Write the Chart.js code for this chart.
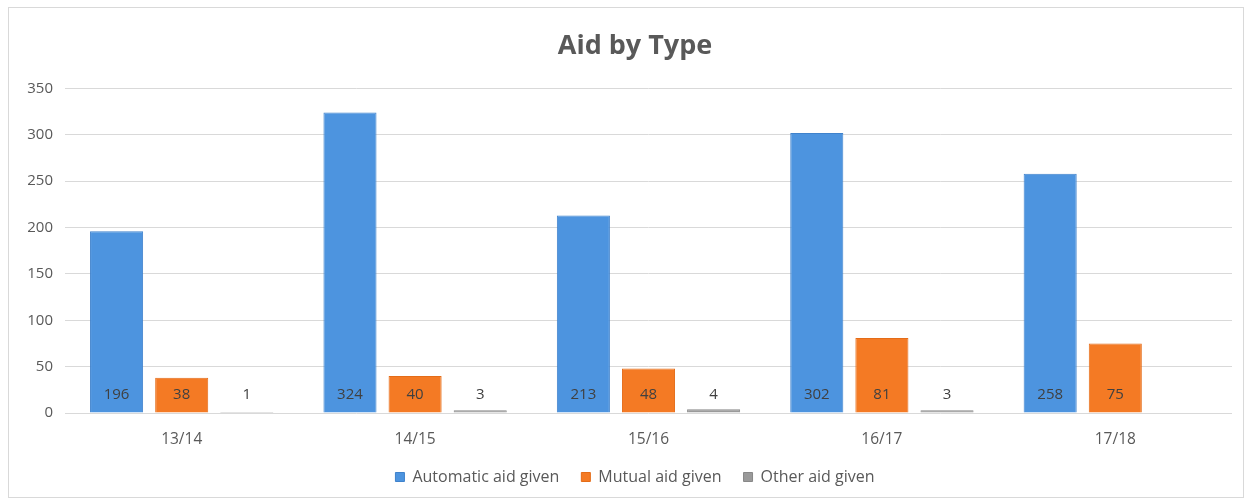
<!DOCTYPE html>
<html>
<head>
<meta charset="utf-8">
<script src="https://cdn.jsdelivr.net/npm/chart.js@4/dist/chart.umd.min.js"></script>
<style>
  html, body { margin: 0; padding: 0; background: #fff; }
  #wrap { position: relative; width: 1250px; height: 499px; }
  #frame { position: absolute; left: 8px; top: 7px; width: 1234px; height: 489px; border: 1px solid #d9d9d9; }
  canvas { position: absolute; left: 0; top: 0; }
</style>
</head>
<body>
<div id="wrap">
  <div id="frame"></div>
  <canvas id="myChartArea" width="1250" height="499"></canvas>
</div>
<script>
// chart values
var years = ['13/14', '14/15', '15/16', '16/17', '17/18'];
var automaticAid = [196, 324, 213, 302, 258];
var mutualAid = [38, 40, 48, 81, 75];
var otherAid = [1, 3, 4, 3, null];
var yTicks = [0, 50, 100, 150, 200, 250, 300, 350];

var labelFont = '"Open Sans", "Noto Sans", sans-serif';

// draws the value labels near the base of each bar, like excel does
var baseLabels = {
    id: 'baseLabels',
    afterDatasetsDraw: function (chart) {
        var ctx = chart.ctx;
        var yScale = chart.scales.y;
        var base = yScale.getPixelForValue(0);
        ctx.save();
        ctx.font = '15px ' + labelFont;
        ctx.fillStyle = '#404040';
        ctx.textAlign = 'center';
        ctx.textBaseline = 'middle';
        chart.data.datasets.forEach(function (ds, i) {
            var meta = chart.getDatasetMeta(i);
            meta.data.forEach(function (bar, j) {
                var v = ds.data[j];
                if (v === null) return;
                ctx.fillText(String(v), bar.x, base - 18);
            });
        });
        ctx.restore();
    }
};

// legend needs wide gaps between items but a short box,
// and title + legend sit a bit right of the plot centre
var legendHeight = {
    id: 'legendHeight',
    beforeLayout: function (chart) {
        var lg = chart.legend;
        if (lg && !lg._fixedH) {
            var fit = lg.fit;
            lg.fit = function () {
                fit.call(this);
                this.height = 40;
            };
            lg._fixedH = true;
        }
    },
    afterLayout: function (chart) {
        [chart.legend, chart.titleBlock].forEach(function (b) {
            if (b) { b.left += 14; b.right += 14; }
        });
    }
};

var ctx_aid = document.getElementById('myChartArea');
var chart_aid = new Chart(ctx_aid, {
    type: 'bar',
    data: {
        labels: years,
        datasets: [
            { label: 'Automatic aid given', data: automaticAid, backgroundColor: '#4d94df', borderColor: '#3f82cc', borderWidth: 1 },
            { label: 'Mutual aid given', data: mutualAid, backgroundColor: '#f47a24', borderColor: '#e46c18', borderWidth: 1 },
            { label: 'Other aid given', data: otherAid, backgroundColor: '#9a9a9a', borderColor: '#888888', borderWidth: 1 }
        ]
    },
    options: {
        responsive: false,
        animation: false,
        categoryPercentage: 0.837,
        barPercentage: 0.815,
        layout: { padding: { left: 10, right: 18, top: 18, bottom: 12 } },
        plugins: {
            title: {
                display: true,
                text: 'Aid by Type',
                color: '#595959',
                font: { family: labelFont, size: 27, weight: 'bold' },
                padding: { top: 12, bottom: 26 }
            },
            legend: {
                position: 'bottom',
                labels: {
                    boxWidth: 9,
                    boxHeight: 9,
                    padding: 22,
                    color: '#595959',
                    font: { family: labelFont, size: 16 }
                }
            },
            tooltip: { enabled: false }
        },
        scales: {
            x: {
                grid: { display: false },
                border: { display: false },
                ticks: { color: '#595959', font: { family: labelFont, size: 15.5 }, padding: 9 },
                afterFit: function (scale) { scale.height = 34; }
            },
            y: {
                min: 0,
                max: 350,
                afterBuildTicks: function (scale) {
                    scale.ticks = yTicks.map(function (v) { return { value: v }; });
                },
                grid: { color: '#d9d9d9', drawTicks: false },
                border: { display: false },
                ticks: { color: '#595959', font: { family: labelFont, size: 15 }, padding: 12 },
                afterFit: function (scale) { scale.width = 55; }
            }
        }
    },
    plugins: [baseLabels, legendHeight]
});
</script>
</body>
</html>
